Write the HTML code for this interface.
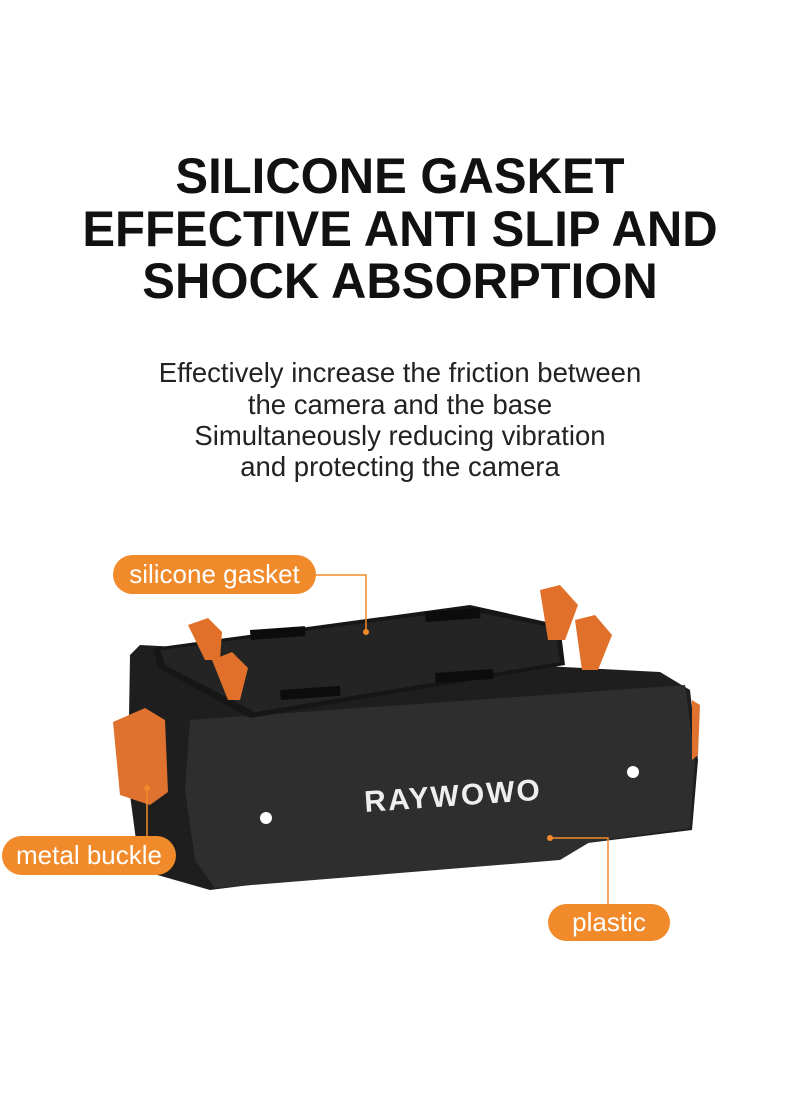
<!DOCTYPE html>
<html><head><meta charset="utf-8"><style>
body{margin:0;width:800px;height:1103px;background:#fff;position:relative;overflow:hidden;font-family:"Liberation Sans",sans-serif}
.t{position:absolute;left:0;width:800px;text-align:center;font-weight:bold;font-size:50px;color:#111;transform:scaleX(0.98);transform-origin:400px 0}
.s{position:absolute;left:0;width:800px;text-align:center;font-size:27.5px;color:#222}
.p{position:absolute;background:#f08a2a;color:#fff;border-radius:20px;font-size:26px;text-align:center}
</style></head><body>
<div class="t" style="top:147px">SILICONE GASKET</div>
<div class="t" style="top:200px">EFFECTIVE ANTI SLIP AND</div>
<div class="t" style="top:252px">SHOCK ABSORPTION</div>
<div class="s" style="top:357px">Effectively increase the friction between</div>
<div class="s" style="top:389px">the camera and the base</div>
<div class="s" style="top:420px">Simultaneously reducing vibration</div>
<div class="s" style="top:451px">and protecting the camera</div>
<svg width="800" height="1103" style="position:absolute;left:0;top:0">
<polygon points="130,655 140,645 660,672 690,690 698,760 692,830 210,890 140,870 128,780" fill="#1e1e1e"/>
<polygon points="190,720 685,685 695,760 690,828 590,842 560,860 215,888 195,860 185,790" fill="#2e2e2e"/>
<polygon points="153,648 470,605 560,625 565,665 250,718 158,668" fill="#161616"/>
<polygon points="160,650 465,610 555,628 560,662 255,712 165,665" fill="#242424"/>
<rect x="250" y="630" width="55" height="10" fill="#0c0c0c" transform="rotate(-4 250 630)"/>
<rect x="425" y="612" width="55" height="10" fill="#0c0c0c" transform="rotate(-4 425 612)"/>
<rect x="280" y="690" width="60" height="10" fill="#0c0c0c" transform="rotate(-4 280 690)"/>
<rect x="435" y="673" width="58" height="10" fill="#0c0c0c" transform="rotate(-4 435 673)"/>
<polygon points="188,625 208,618 222,632 220,660 205,660" fill="#e0702a"/>
<polygon points="212,660 232,652 248,668 240,700 228,700" fill="#e0702a"/>
<polygon points="540,590 560,585 578,605 565,640 548,640" fill="#e0702a"/>
<polygon points="575,620 595,615 612,635 598,670 582,670" fill="#e0702a"/>
<polygon points="113,722 145,708 165,720 168,792 150,805 120,795" fill="#e07230"/>
<polygon points="692,700 700,705 698,755 692,760" fill="#e07230"/>
<circle cx="266" cy="818" r="6" fill="#fff"/>
<circle cx="633" cy="772" r="6" fill="#fff"/>
<text x="365" y="812" font-family="Liberation Sans" font-weight="bold" font-size="30" fill="#eee" transform="rotate(-4 365 812)" letter-spacing="2">RAYWOWO</text>
<g stroke="#f08a2a" stroke-width="1.5" fill="none">
<polyline points="316,575 366,575 366,632"/>
<polyline points="147,836 147,790"/>
<polyline points="608,905 608,838 550,838"/>
</g>
<circle cx="366" cy="632" r="3" fill="#f08a2a"/>
<circle cx="147" cy="788" r="3" fill="#f08a2a"/>
<circle cx="550" cy="838" r="3" fill="#f08a2a"/>
</svg>
<div class="p" style="left:113px;top:555px;width:203px;height:39px;line-height:39px">silicone gasket</div>
<div class="p" style="left:2px;top:836px;width:174px;height:39px;line-height:39px">metal buckle</div>
<div class="p" style="left:548px;top:904px;width:122px;height:37px;line-height:37px">plastic</div>
</body></html>
